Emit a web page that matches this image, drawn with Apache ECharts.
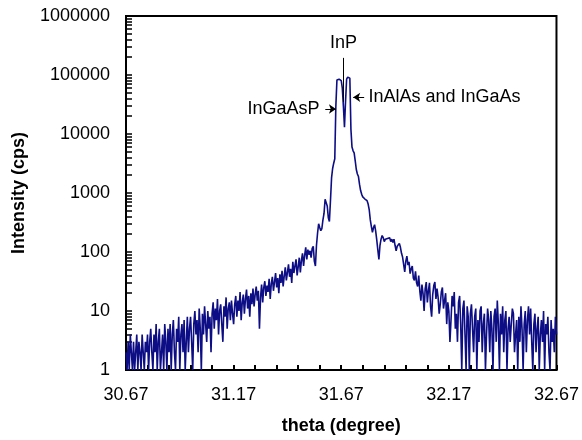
<!DOCTYPE html>
<html>
<head>
<meta charset="utf-8">
<script src="https://cdn.jsdelivr.net/npm/echarts@6/dist/echarts.min.js"></script>
<style>
html,body{margin:0;padding:0;background:#fff;}
#chart{width:582px;height:440px;}
</style>
</head>
<body>
<div id="chart"></div>
<script>
// Scan grid (theta, degree)
var thetaStart = 30.67;
var thetaStep = 0.005;

// Intensity (cps), one value per scan step
var leftTail = [
  2, 1, 3, 1, 4, 2, 1, 3, 1, 2, 4, 1, 3, 2, 1, 4, 2, 1, 3, 2,
  4, 1, 3, 5, 2, 1, 4, 2, 6, 1, 3, 5, 1, 2, 4, 1, 6, 3, 1, 5,
  2, 6, 1, 4, 7, 2, 1, 5, 3, 8, 1, 4, 6, 2, 7, 1, 3, 8, 2, 5,
  8, 3, 1, 6, 10, 4, 7, 2, 11, 5, 1, 9, 4, 12, 6, 3, 10, 5, 8, 2,
  9, 14, 5, 11, 7, 16, 4, 10, 13, 6, 3, 12, 8, 17, 5, 11, 14, 7, 15, 9,
  6, 13, 18, 8, 15, 10, 21, 7, 14, 19, 9, 16, 23, 11, 18, 8, 20, 13, 24, 12,
  19, 26, 15, 22, 5, 17, 28, 14, 25, 32, 18, 27, 21, 35, 16, 29, 38, 22, 31, 44,
  25, 36, 20, 42, 30, 48, 26, 39, 55, 33, 45, 62, 38, 52, 30, 68, 44, 58, 75, 40,
  56, 80, 45, 72, 95, 58, 88, 120, 75, 110, 90, 105, 80, 115, 125, 70, 58, 130, 210, 300
];
var peak = [
  260, 230, 250, 350, 450, 780, 820, 600, 380, 330, 750, 1800, 2600, 3200, 3800, 30000, 82000, 86000, 85000, 84000,
  80000, 60000, 30000, 13000, 36000, 85000, 92000, 90000, 88000, 12000, 6000, 5200, 4800, 3500, 2500, 2100, 1900, 1400, 1100, 950,
  860, 820, 790, 760, 740, 650, 520, 350, 270, 215, 260, 290, 225, 160, 108, 75, 130, 165, 190, 175
];
var rightTail = [
  150, 165, 155, 170, 160, 175, 150, 165, 145, 165, 130, 105, 125, 118, 140, 120, 95, 82, 78, 46,
  70, 85, 60, 68, 43, 52, 58, 36, 33, 47, 30, 26, 40, 22, 15, 28, 20, 10, 24, 31,
  14, 22, 30, 12, 8, 19, 27, 31, 16, 24, 17, 9, 13, 21, 25, 11, 15, 20, 6, 14,
  10, 3, 7, 18, 12, 21, 5, 9, 3, 14, 18, 6, 1, 11, 15, 4, 1, 12, 8, 1,
  9, 13, 5, 2, 8, 11, 1, 7, 3, 10, 12, 2, 6, 9, 1, 4, 11, 7, 2, 10,
  5, 1, 8, 11, 3, 15, 6, 1, 9, 4, 12, 2, 7, 10, 1, 5, 8, 3, 6, 11,
  9, 2, 4, 7, 1, 8, 3, 12, 5, 1, 6, 10, 2, 7, 12, 4, 11, 3, 1, 6,
  9, 2, 5, 8, 1, 4, 7, 3, 10, 1, 6, 4, 8, 2, 1, 7, 3, 5, 2, 8, 4
];

// Axis ticks and labels
var xLabelValues = [30.67, 31.17, 31.67, 32.17, 32.67];
var xTickValues = [30.67, 30.77, 30.87, 30.97, 31.07, 31.17, 31.27, 31.37, 31.47, 31.57, 31.67,
                   31.77, 31.87, 31.97, 32.07, 32.17, 32.27, 32.37, 32.47, 32.57, 32.67];
var yLabelValues = [1, 10, 100, 1000, 10000, 100000, 1000000];
var yMinorMultipliers = [1, 2, 3, 4, 5, 6, 7, 8, 9];

// Annotations (data space)
var annInP = {text: 'InP', theta: 31.68, labelY: 350000, lineTop: 195000, lineBottom: 35000};
var annInGaAsP = {text: 'InGaAsP', textTheta: 31.569, y: 26500, from: 31.596, to: 31.6455};
var annInAlAs = {text: 'InAlAs and InGaAs', textTheta: 31.7964, y: 41800, from: 31.7765, to: 31.7256};

var intensity = leftTail.concat(peak, rightTail);
var seriesData = intensity.map(function (v, i) {
  return [+(thetaStart + i * thetaStep).toFixed(3), v];
});
var yTickValues = [];
yLabelValues.forEach(function (d, k) {
  if (k === yLabelValues.length - 1) { yTickValues.push(d); return; }
  yMinorMultipliers.forEach(function (m) { yTickValues.push(d * m); });
});

var FONT = "'Liberation Sans', Arial, Helvetica, sans-serif";
var chart = echarts.init(document.getElementById('chart'), null, {renderer: 'canvas'});
var labelStyle = {show: true, position: 'inside', color: '#000', fontSize: 18, fontFamily: FONT, verticalAlign: 'middle'};

chart.setOption({
  animation: false,
  backgroundColor: '#fff',
  grid: {left: 126, right: 24, top: 16, bottom: 70, show: true, borderColor: '#000', borderWidth: 2, backgroundColor: 'transparent'},
  xAxis: {
    type: 'value', min: 30.67, max: 32.67,
    name: 'theta (degree)', nameLocation: 'middle', nameGap: 47,
    nameTextStyle: {fontSize: 18, fontWeight: 'bold', color: '#000', fontFamily: FONT},
    axisLine: {show: true, lineStyle: {color: '#000', width: 2}},
    axisTick: {show: true, inside: true, length: 5, customValues: xTickValues, lineStyle: {color: '#000', width: 2}},
    axisLabel: {customValues: xLabelValues, margin: 16, fontSize: 18, color: '#000', fontFamily: FONT,
      formatter: function (v) { return (+v).toFixed(2); }},
    splitLine: {show: false}
  },
  yAxis: {
    type: 'log', logBase: 10, min: 1, max: 1000000,
    name: 'Intensity (cps)', nameLocation: 'middle', nameGap: 98,
    nameTextStyle: {fontSize: 18, fontWeight: 'bold', color: '#000', fontFamily: FONT},
    axisLine: {show: true, lineStyle: {color: '#000', width: 2}},
    axisTick: {show: true, inside: true, length: 6, customValues: yTickValues, lineStyle: {color: '#000', width: 1.5}},
    axisLabel: {customValues: yLabelValues, margin: 16, fontSize: 18, color: '#000', fontFamily: FONT,
      formatter: function (v) { return String(Math.round(v)); }},
    splitLine: {show: false}
  },
  series: [{
    type: 'line',
    data: seriesData,
    showSymbol: false,
    symbol: 'none',
    lineStyle: {color: '#0d0d85', width: 1.6},
    itemStyle: {color: '#0d0d85'},
    silent: true,
    markLine: {
      silent: true,
      symbol: ['none', 'arrow'],
      symbolSize: 7,
      label: {show: false},
      lineStyle: {color: '#000', width: 1, type: 'solid'},
      emphasis: {disabled: true},
      data: [
        [{coord: [annInP.theta, annInP.lineTop], symbol: 'none'}, {coord: [annInP.theta, annInP.lineBottom], symbol: 'none'}],
        [{coord: [annInGaAsP.from, annInGaAsP.y]}, {coord: [annInGaAsP.to, annInGaAsP.y]}],
        [{coord: [annInAlAs.from, annInAlAs.y]}, {coord: [annInAlAs.to, annInAlAs.y]}]
      ]
    },
    markPoint: {
      silent: true,
      symbol: 'circle',
      symbolSize: 0,
      itemStyle: {color: 'transparent'},
      data: [
        {coord: [annInP.theta, annInP.labelY], label: Object.assign({}, labelStyle, {formatter: annInP.text, align: 'center'})},
        {coord: [annInGaAsP.textTheta, annInGaAsP.y], label: Object.assign({}, labelStyle, {formatter: annInGaAsP.text, align: 'right'})},
        {coord: [annInAlAs.textTheta, annInAlAs.y], label: Object.assign({}, labelStyle, {formatter: annInAlAs.text, align: 'left'})}
      ]
    }
  }]
});
</script>
</body>
</html>
